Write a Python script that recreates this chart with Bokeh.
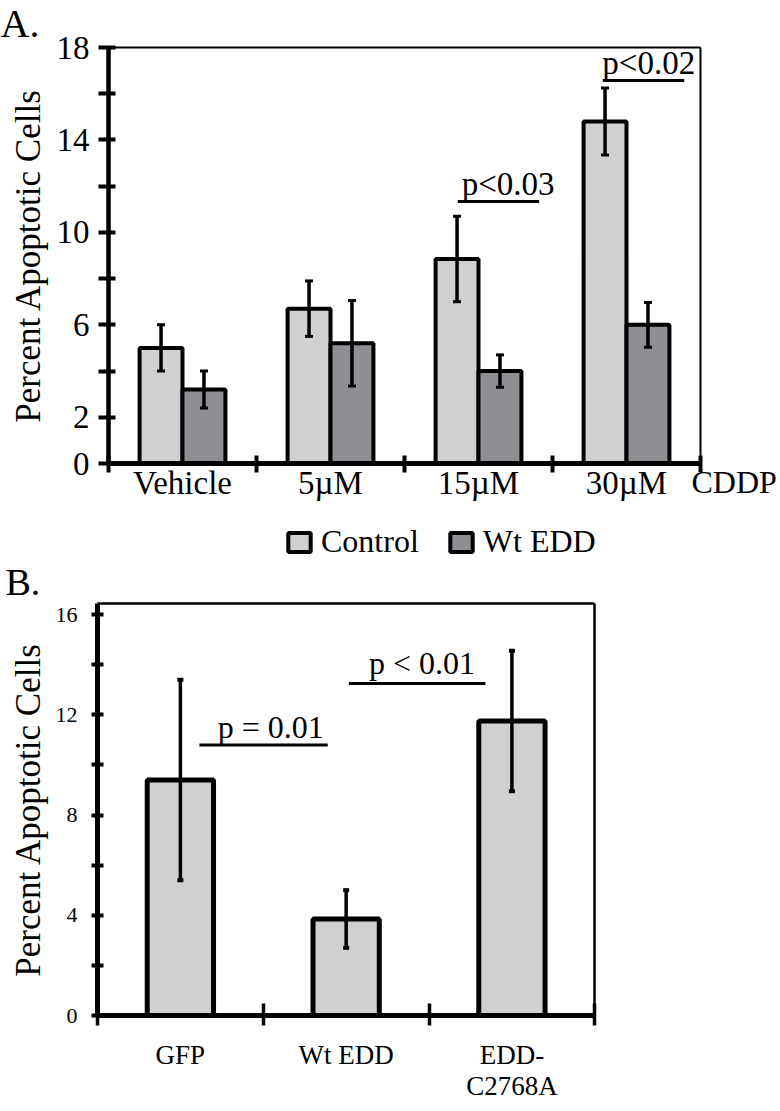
import numpy as np
from bokeh.plotting import figure
from bokeh.models import (ColumnDataSource, Whisker, TeeHead, FixedTicker, Legend,
                          LegendItem, Label, Range1d, LinearAxis)
from bokeh.layouts import column
from bokeh.core.properties import value
from bokeh.embed import file_html
from bokeh.resources import INLINE

FONT = "Liberation Serif"
LIGHT = "#cfd0d2"
DARK = "#8e8f93"

# ---------------- Panel A data ----------------
categories_a = ["Vehicle", "5µM", "15µM", "30µM"]
series_a = ["Control", "Wt EDD"]
control_a = [5.0, 6.7, 8.85, 14.8]
control_err_a = [1.0, 1.2, 1.85, 1.45]
edd_a = [3.2, 5.2, 4.0, 6.0]
edd_err_a = [0.8, 1.85, 0.7, 0.97]
yticks_a = [0, 2, 4, 6, 8, 10, 12, 14, 16, 18]
ylabels_a = [0, 2, 6, 10, 14, 18]
ymax_a = 18
sig_a_text = ["p<0.03", "p<0.02"]
sig_a_x0 = [2.36, 3.34]
sig_a_x1 = [2.91, 3.89]
sig_a_y = [11.34, 16.57]
sig_a_tx = [2.70, 3.65]
sig_a_ty = [12.1, 17.33]
unit_a = "CDDP"

# ---------------- Panel B data ----------------
categories_b = ["GFP", "Wt EDD", "EDD-\nC2768A"]
values_b = [9.4, 3.85, 11.75]
err_b = [4.0, 1.15, 2.8]
yticks_b = [0, 2, 4, 6, 8, 10, 12, 14, 16]
ylabels_b = [0, 4, 8, 12, 16]
ymax_b = 16.44
sig_b_text = ["p = 0.01", "p < 0.01"]
sig_b_x0 = [0.615, 1.516]
sig_b_x1 = [1.389, 2.34]
sig_b_y = [10.79, 13.25]
sig_b_tx = [1.045, 1.958]
sig_b_ty = [11.5, 14.05]

W = 778
HA = 560
HB = 550


def frame_lines(p, xmax, ymax, width):
    """Top and right border lines as bounded axes at fixed locations."""
    top = LinearAxis(fixed_location=ymax, bounds=(0, xmax), ticker=FixedTicker(ticks=[]),
                     axis_line_width=width, major_tick_in=0, major_tick_out=0,
                     minor_tick_in=0, minor_tick_out=0)
    right = LinearAxis(fixed_location=xmax, bounds=(0, ymax), ticker=FixedTicker(ticks=[]),
                       axis_line_width=width, major_tick_in=0, major_tick_out=0,
                       minor_tick_in=0, minor_tick_out=0)
    p.add_layout(top, "above")
    p.add_layout(right, "right")


def base_fig(w, h, xr, yr):
    p = figure(width=w, height=h, x_range=Range1d(*xr), y_range=Range1d(*yr),
               output_backend="svg", toolbar_location=None, min_border=0)
    p.grid.visible = False
    p.outline_line_color = None
    p.background_fill_color = "white"
    p.border_fill_color = "white"
    return p


# ================= Panel A =================
# reference geometry (page px): x 0..4 -> 108..700, y 0..18 -> 463..47
pxa = 148.0
pya = 416.0 / 18
pA = base_fig(W, HA,
              ((0 - 108) / pxa, (W - 108) / pxa),
              ((463 - HA) / pya, (463 - 0) / pya))
nA = len(categories_a)

xa = np.arange(nA) + 0.5
bw_a = 0.29
src_a = ColumnDataSource(dict(
    xc=xa - bw_a / 2, xe=xa + bw_a / 2,
    control=control_a, edd=edd_a,
    cu=np.array(control_a) + np.array(control_err_a), cl=np.array(control_a) - np.array(control_err_a),
    eu=np.array(edd_a) + np.array(edd_err_a), el=np.array(edd_a) - np.array(edd_err_a),
))
r1 = pA.vbar(x="xc", top="control", bottom=0, width=bw_a, source=src_a,
             fill_color=LIGHT, line_color="black", line_width=4)
r2 = pA.vbar(x="xe", top="edd", bottom=0, width=bw_a, source=src_a,
             fill_color=DARK, line_color="black", line_width=4)
for base, up, lo in (("xc", "cu", "cl"), ("xe", "eu", "el")):
    w = Whisker(base=base, upper=up, lower=lo, source=src_a, line_width=3.5, line_color="black",
                upper_head=TeeHead(size=8, line_width=3, line_color="black"),
                lower_head=TeeHead(size=8, line_width=3, line_color="black"), level="overlay")
    pA.add_layout(w)

sigA = ColumnDataSource(dict(x0=sig_a_x0, x1=sig_a_x1, y=sig_a_y, tx=sig_a_tx, ty=sig_a_ty, text=sig_a_text))
pA.segment(x0="x0", y0="y", x1="x1", y1="y", source=sigA, line_width=3, line_color="black")
pA.text(x="tx", y="ty", text="text", source=sigA, text_font=value(FONT), text_font_size="33px",
        text_align="center", text_baseline="middle", text_color="black")

xax = pA.xaxis[0]
xax.fixed_location = 0
xax.bounds = (0, nA)
xax.ticker = FixedTicker(ticks=list(xa), minor_ticks=list(range(nA + 1)))
xax.major_label_overrides = {float(x): c for x, c in zip(xa, categories_a)}
xax.major_tick_in = 0
xax.major_tick_out = 0
xax.minor_tick_in = 8
xax.minor_tick_out = 9
xax.minor_tick_line_width = 4
xax.minor_tick_line_color = "black"
xax.axis_line_width = 5
xax.major_label_text_font = FONT
xax.major_label_text_font_size = "33px"
xax.major_label_text_color = "black"
xax.major_label_standoff = -8

yax = pA.yaxis[0]
yax.fixed_location = 0
yax.bounds = (0, ymax_a)
yax.ticker = FixedTicker(ticks=yticks_a, minor_ticks=[])
yax.major_label_overrides = {t: "" for t in yticks_a if t not in ylabels_a}
yax.major_tick_in = 7
yax.major_tick_out = 10
yax.major_tick_line_width = 4
yax.axis_line_width = 4.5
yax.major_label_text_font = FONT
yax.major_label_text_font_size = "33px"
yax.major_label_text_color = "black"
yax.major_label_standoff = 9
yax.axis_label = "Percent Apoptotic Cells"
yax.axis_label_text_font = FONT
yax.axis_label_text_font_size = "35px"
yax.axis_label_text_font_style = "normal"
yax.axis_label_text_color = "black"
yax.axis_label_standoff = 6

frame_lines(pA, nA, ymax_a, 2)

legend = Legend(items=[LegendItem(label=series_a[0], renderers=[r1]),
                       LegendItem(label=series_a[1], renderers=[r2])],
                orientation="horizontal", location=(285, 0), padding=0, margin=0,
                border_line_color=None, background_fill_alpha=0,
                glyph_width=28, glyph_height=24, label_standoff=8, spacing=28,
                label_text_font=FONT, label_text_font_size="32px", label_text_color="black")
pA.add_layout(legend)

pA.add_layout(Label(x=0, y=HA, x_units="screen", y_units="screen", text="A.",
                    text_font=FONT, text_font_size="40px", text_baseline="top", text_align="left",
                    text_color="black"))
pA.add_layout(Label(x=(691 - 108) / pxa, y=(463 - 481) / pya, text=unit_a,
                    text_font=FONT, text_font_size="32px", text_baseline="middle", text_align="left",
                    text_color="black"))

# ================= Panel B =================
# reference geometry (page px): x 0..3 -> 97..594, y 0..16 -> 1015..614; canvas starts at y=HA
pxb = (594.3 - 97) / 3
pyb = (1015 - 614) / 16
pB = base_fig(W, HB,
              ((0 - 97) / pxb, (W - 97) / pxb),
              ((1015 - (HA + HB)) / pyb, (1015 - HA) / pyb))
nB = len(categories_b)

xb = np.arange(nB) + 0.5
src_b = ColumnDataSource(dict(x=xb, top=values_b,
                              up=np.array(values_b) + np.array(err_b),
                              lo=np.array(values_b) - np.array(err_b)))
pB.vbar(x="x", top="top", bottom=0, width=0.4, source=src_b,
        fill_color=LIGHT, line_color="black", line_width=5)
pB.add_layout(Whisker(base="x", upper="up", lower="lo", source=src_b, line_width=3.5, line_color="black",
                      upper_head=TeeHead(size=6, line_width=4, line_color="black"),
                      lower_head=TeeHead(size=6, line_width=4, line_color="black"), level="overlay"))

sigB = ColumnDataSource(dict(x0=sig_b_x0, x1=sig_b_x1, y=sig_b_y, tx=sig_b_tx, ty=sig_b_ty, text=sig_b_text))
pB.segment(x0="x0", y0="y", x1="x1", y1="y", source=sigB, line_width=3, line_color="black")
pB.text(x="tx", y="ty", text="text", source=sigB, text_font=value(FONT), text_font_size="32px",
        text_align="center", text_baseline="middle", text_color="black")

xbx = pB.xaxis[0]
xbx.fixed_location = 0
xbx.bounds = (0, nB)
xbx.ticker = FixedTicker(ticks=list(xb), minor_ticks=list(range(nB + 1)))
xbx.major_label_overrides = {float(x): c for x, c in zip(xb, categories_b)}
xbx.major_tick_in = 0
xbx.major_tick_out = 0
xbx.minor_tick_in = 12
xbx.minor_tick_out = 10
xbx.minor_tick_line_width = 3.5
xbx.minor_tick_line_color = "black"
xbx.axis_line_width = 5
xbx.major_label_text_font = FONT
xbx.major_label_text_font_size = "27px"
xbx.major_label_text_line_height = 1.05
xbx.major_label_text_color = "black"
xbx.major_label_standoff = 14

ybx = pB.yaxis[0]
ybx.fixed_location = 0
ybx.bounds = (0, ymax_b)
ybx.ticker = FixedTicker(ticks=yticks_b, minor_ticks=[])
ybx.major_label_overrides = {t: "" for t in yticks_b if t not in ylabels_b}
ybx.major_tick_in = 6
ybx.major_tick_out = 6
ybx.major_tick_line_width = 4
ybx.axis_line_width = 5
ybx.major_label_text_font = FONT
ybx.major_label_text_font_size = "22px"
ybx.major_label_text_color = "black"
ybx.major_label_standoff = 14
ybx.axis_label = "Percent Apoptotic Cells"
ybx.axis_label_text_font = FONT
ybx.axis_label_text_font_size = "35px"
ybx.axis_label_text_font_style = "normal"
ybx.axis_label_text_color = "black"
ybx.axis_label_standoff = 5

frame_lines(pB, nB, ymax_b, 2.5)

pB.add_layout(Label(x=5, y=HB, x_units="screen", y_units="screen", text="B.",
                    text_font=FONT, text_font_size="38px", text_baseline="top", text_align="left",
                    text_color="black"))

layout = column(pA, pB)
open("out.html", "w").write(file_html(layout, INLINE))
